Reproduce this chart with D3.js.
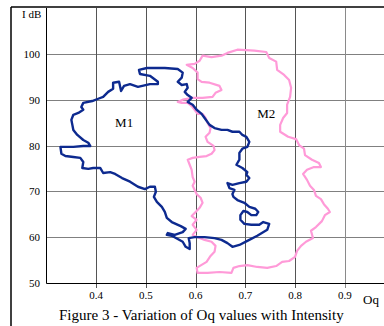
<!DOCTYPE html>
<html>
<head>
<meta charset="utf-8">
<script src="https://cdn.jsdelivr.net/npm/d3@7"></script>
<style>
  html, body { margin: 0; padding: 0; background: #fff; }
  svg { display: block; }
  text { font-family: "Liberation Serif", "Times New Roman", serif; fill: #000; }
</style>
</head>
<body>
<svg id="chart" width="384" height="326"></svg>
<script>
// ---- Data ----
const xTicks = [0.4, 0.5, 0.6, 0.7, 0.8, 0.9];
const yTicks = [50, 60, 70, 80, 90, 100];
const xTickLabels = ["0.4", "0.5", "0.6", "0.7", "0.8", "0.9"];
const yTickLabels = ["50", "60", "70", "80", "90", "100"];
const seriesNames = ["M1", "M2"];

// M1 loop: Oq values and intensity (dB) values
const m1Oq = [0.502,0.538,0.564,0.574,0.572,0.564,0.572,0.582,0.584,0.578,0.584,0.592,0.584,0.594,0.602,0.612,0.618,0.628,0.638,0.652,
  0.664,0.674,0.688,0.694,0.702,0.708,0.704,0.694,0.688,0.688,0.682,0.694,0.704,0.702,0.708,0.702,0.688,0.674,0.664,0.668,
  0.678,0.674,0.676,0.684,0.698,0.708,0.720,0.726,0.722,0.712,0.704,0.696,0.690,0.690,0.698,0.712,0.728,0.736,0.748,0.744,
  0.724,0.704,0.688,0.674,0.664,0.652,0.638,0.618,0.598,0.586,0.588,0.588,0.580,0.574,0.564,0.552,0.542,0.544,0.558,0.574,
  0.580,0.570,0.552,0.542,0.538,0.532,0.522,0.516,0.520,0.518,0.508,0.498,0.484,0.468,0.452,0.438,0.428,0.414,0.408,0.394,
  0.384,0.372,0.374,0.368,0.354,0.338,0.330,0.328,0.340,0.354,0.374,0.388,0.384,0.374,0.362,0.354,0.352,0.350,0.354,0.364,
  0.374,0.370,0.374,0.392,0.404,0.414,0.424,0.434,0.434,0.446,0.450,0.456,0.468,0.484,0.508,0.524,0.524,0.508,0.488,0.486];
const m1Db = [96.9,96.9,96.7,95.9,94.8,93.9,93.2,93.4,92.6,91.7,91.0,90.4,89.5,88.9,87.8,86.9,86.0,84.5,83.8,83.4,
  83.4,83.0,83.0,82.3,81.9,80.8,79.7,79.3,78.4,76.9,75.8,75.1,74.2,73.6,72.9,72.1,71.8,71.4,71.8,70.7,
  70.3,69.4,68.8,68.1,67.5,66.6,66.2,65.5,64.8,64.8,65.5,65.7,64.8,63.8,62.9,62.7,62.7,63.3,62.9,61.6,
  60.3,59.2,58.3,57.9,58.7,59.4,59.8,60.0,60.0,59.8,58.7,57.4,57.9,59.0,59.6,60.3,60.5,60.9,60.5,61.1,
  61.8,62.4,63.3,64.2,65.5,66.6,67.7,68.8,69.9,71.0,71.0,70.5,71.0,72.1,72.9,73.8,74.2,74.0,75.1,75.1,
  74.9,75.1,76.4,77.3,77.5,77.7,78.2,79.7,79.7,79.7,79.9,79.9,80.6,81.2,82.3,83.4,84.5,85.6,86.7,87.1,
  87.8,88.4,89.3,89.7,90.2,90.6,91.7,92.4,93.7,93.9,91.9,93.0,93.4,92.8,93.4,93.4,93.9,95.2,95.6,96.5];

// M2 loop: Oq values and intensity (dB) values
const m2Oq = [0.614,0.632,0.652,0.664,0.684,0.718,0.742,0.748,0.762,0.764,0.778,0.788,0.792,0.790,0.784,0.784,0.776,0.770,0.770,0.786,
  0.802,0.808,0.818,0.820,0.834,0.848,0.852,0.838,0.824,0.816,0.824,0.830,0.838,0.842,0.852,0.858,0.866,0.870,0.860,0.854,
  0.842,0.832,0.836,0.822,0.812,0.804,0.800,0.788,0.774,0.762,0.744,0.724,0.704,0.688,0.676,0.672,0.648,0.624,0.604,0.602,
  0.622,0.630,0.638,0.640,0.632,0.618,0.604,0.594,0.602,0.594,0.602,0.592,0.600,0.608,0.614,0.610,0.602,0.598,0.594,0.598,
  0.594,0.592,0.588,0.584,0.594,0.608,0.622,0.632,0.638,0.636,0.624,0.620,0.628,0.630,0.624,0.620,0.614,0.604,0.598,0.592,
  0.584,0.572,0.564,0.574,0.594,0.614,0.634,0.640,0.652,0.648,0.628,0.612,0.604,0.604,0.594,0.582,0.598,0.608];
const m2Db = [99.6,99.3,99.6,100.2,100.9,100.7,100.4,99.1,98.3,96.5,95.4,94.3,92.6,90.6,88.9,87.1,86.0,84.5,83.0,81.9,
  81.4,80.1,79.3,77.9,76.9,76.2,75.3,75.3,74.7,73.8,72.5,71.2,70.3,69.0,68.3,67.2,66.2,65.5,64.8,63.5,
  62.2,61.4,59.8,59.0,58.1,57.0,55.7,54.8,54.6,53.7,53.3,53.5,53.9,53.7,53.3,52.2,52.4,52.2,52.2,53.3,
  54.6,55.9,56.8,58.1,59.0,59.4,60.0,60.5,61.6,62.7,63.8,64.6,65.5,66.4,67.5,68.6,69.4,70.3,71.2,72.1,
  73.1,74.7,75.8,76.9,77.3,77.5,77.7,78.2,79.0,79.9,80.8,81.9,82.8,83.8,84.9,86.0,86.9,86.9,87.8,88.6,
  89.3,89.3,89.5,90.0,90.4,90.4,90.6,91.5,92.1,93.0,93.7,93.9,94.5,95.9,96.9,97.6,97.8,98.5];

const labelPos = { M1: [0.438, 84.0], M2: [0.724, 86.0] };

// ---- Drawing ----
const svg = d3.select("#chart");
const x = d3.scaleLinear().domain([0.3, 1.0]).range([46.5, 394.5]);
const y = d3.scaleLinear().domain([50, 110]).range([283, 8]);
const crisp = v => Math.round(v) + 0.5;

// outer frame (top and left edges)
svg.append("line").attr("x1", 11).attr("x2", 384).attr("y1", 7).attr("y2", 7)
  .attr("stroke", "#000").attr("stroke-width", 1.5);
svg.append("line").attr("x1", 11).attr("x2", 11).attr("y1", 7).attr("y2", 326)
  .attr("stroke", "#000").attr("stroke-width", 1.5);

// horizontal grid
svg.append("g").selectAll("line").data(yTicks.filter(d => d > 50)).join("line")
  .attr("x1", 46).attr("x2", 384)
  .attr("y1", d => crisp(y(d))).attr("y2", d => crisp(y(d)))
  .attr("stroke", "#808080").attr("stroke-width", 1);

// vertical grid (with tick extending below axis)
svg.append("g").selectAll("line").data(xTicks).join("line")
  .attr("x1", d => crisp(x(d))).attr("x2", d => crisp(x(d)))
  .attr("y1", 8).attr("y2", y(50) + 5)
  .attr("stroke", (d, i) => i === xTicks.length - 1 ? "#8a8a8a" : "#555").attr("stroke-width", 1);

// axes lines
svg.append("line").attr("x1", crisp(x(0.3)) - 1).attr("x2", crisp(x(0.3)) - 1).attr("y1", 8).attr("y2", crisp(y(50)))
  .attr("stroke", "#000").attr("stroke-width", 1);
svg.append("line").attr("x1", crisp(x(0.3)) - 1).attr("x2", 384).attr("y1", crisp(y(50))).attr("y2", crisp(y(50)))
  .attr("stroke", "#000").attr("stroke-width", 1);

// tick labels
svg.append("g").selectAll("text").data(yTicks).join("text")
  .attr("x", 40).attr("y", d => y(d) + 4)
  .attr("text-anchor", "end").attr("font-size", 11)
  .text((d, i) => yTickLabels[i]);
svg.append("g").selectAll("text").data(xTicks).join("text")
  .attr("x", d => x(d)).attr("y", 299)
  .attr("text-anchor", "middle").attr("font-size", 11)
  .text((d, i) => xTickLabels[i]);

// axis titles
svg.append("text").attr("x", 22).attr("y", 18).attr("font-size", 11).text("I dB");
svg.append("text").attr("x", 363).attr("y", 304).attr("font-size", 13).text("Oq");

// caption
svg.append("text").attr("x", 59).attr("y", 320).attr("font-size", 15)
  .text("Figure 3 - Variation of Oq values with Intensity");

// loops
const line = d3.line().x(d => x(d[0])).y(d => y(d[1])).curve(d3.curveLinearClosed);
const m2 = d3.zip(m2Oq, m2Db);
const m1 = d3.zip(m1Oq, m1Db);
svg.append("path").datum(m2).attr("d", line)
  .attr("fill", "none").attr("stroke", "#ff9ad8").attr("stroke-width", 2.2)
  .attr("stroke-linejoin", "round");
svg.append("path").datum(m1).attr("d", line)
  .attr("fill", "none").attr("stroke", "#0d2a8f").attr("stroke-width", 2.4)
  .attr("stroke-linejoin", "round");

// series labels
svg.append("g").selectAll("text").data(seriesNames).join("text")
  .attr("x", d => x(labelPos[d][0])).attr("y", d => y(labelPos[d][1]))
  .attr("font-size", 13)
  .text(d => d);
</script>
</body>
</html>
